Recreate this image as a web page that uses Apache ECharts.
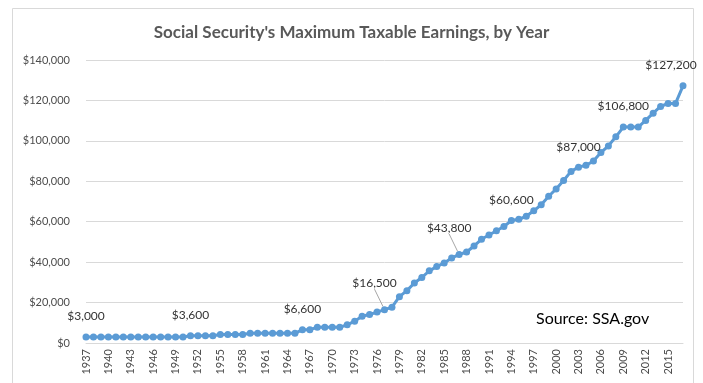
<!DOCTYPE html>
<html><head><meta charset="utf-8">
<script src="https://cdn.jsdelivr.net/npm/echarts@6/dist/echarts.min.js"></script>
<style>html,body{margin:0;padding:0;background:#fff;}#c{width:703px;height:383px;}</style>
</head><body><div id="c"></div>
<script>
const years = [];
for (let y = 1937; y <= 2017; y++) years.push(String(y));
const values = [
 3000,3000,3000,3000,3000,3000,3000,3000,3000,3000,3000,3000,3000,3000, // 1937-1950
 3600,3600,3600,3600, // 1951-1954
 4200,4200,4200,4200, // 1955-1958
 4800,4800,4800,4800,4800,4800,4800, // 1959-1965
 6600,6600, // 1966-1967
 7800,7800,7800,7800, // 1968-1971
 9000,10800,13200,14100,15300,16500,17700, // 1972-1978
 22900,25900,29700,32400,35700,37800,39600,42000,43800,45000, // 1979-1988
 48000,51300,53400,55500,57600,60600,61200,62700,65400,68400, // 1989-1998
 72600,76200,80400,84900,87000,87900,90000,94200,97500,102000, // 1999-2008
 106800,106800,106800,110100,113700,117000,118500,118500,127200 // 2009-2017
];
const labeledYears = ['1937','1951','1966','1977','1987','1994','2003','2009','2017'];
const yTicks = [0,20000,40000,60000,80000,100000,120000,140000];

const labelShift = {'1977':[-10,-6],'1987':[-10,-6],'2017':[-12,0]};
const leaderYears = ['1977','1987'];

const chart = echarts.init(document.getElementById('c'));
const data = values.map((v,i) => {
  const y = years[i];
  if (labeledYears.includes(y)) {
    return {value: v, label: {show: true}, labelLine: {show: leaderYears.includes(y)}};
  }
  return v;
});
const fmt = v => '$' + Number(v).toLocaleString('en-US');
chart.setOption({
  animation: false,
  title: {text: "Social Security's Maximum Taxable Earnings, by Year", left: 'center', top: 19,
    textStyle: {fontFamily: 'Lato', fontSize: 17, fontWeight: 'bold', color: '#595959'}},
  grid: {left: 86, right: 20, top: 60, bottom: 40},
  xAxis: {type: 'category', data: years, boundaryGap: false,
    axisLine: {lineStyle: {color: '#d9d9d9'}}, axisTick: {show: false},
    axisLabel: {interval: 2, rotate: 90, margin: 6, fontFamily: 'Lato', fontSize: 11, color: '#4d4d4d'}},
  yAxis: {type: 'value', min: 0, max: 140000, interval: 20000,
    axisLine: {show: false}, axisTick: {show: false},
    splitLine: {lineStyle: {color: '#d9d9d9'}},
    axisLabel: {margin: 16, fontFamily: 'Lato', fontSize: 11, color: '#4d4d4d', formatter: fmt}},
  series: [{
    type: 'line', data: data, symbol: 'circle', symbolSize: 7, showAllSymbol: true,
    lineStyle: {color: '#5b9bd5', width: 3}, itemStyle: {color: '#5b9bd5'},
    label: {show: false, position: 'top', distance: 11, fontFamily: 'Lato', fontSize: 12, color: '#333', formatter: p => fmt(p.value)},
    labelLine: {show: false, lineStyle: {color: '#a6a6a6', width: 1}},
    labelLayout: p => {
      const y = years[p.dataIndex];
      const s = labelShift[y];
      if (s) return {dx: s[0], dy: s[1], hideOverlap: false};
      return {hideOverlap: false};
    }
  }],
  graphic: [{type:'rect', shape:{x:12.5,y:8.5,width:681,height:380}, style:{fill:null, stroke:'#d9d9d9', lineWidth:1}, z:-1},
    {type:'text', left: 536, top: 311, style:{text:'Source: SSA.gov', font: '16px Lato', fill:'#000'}}]
});
</script></body></html>
